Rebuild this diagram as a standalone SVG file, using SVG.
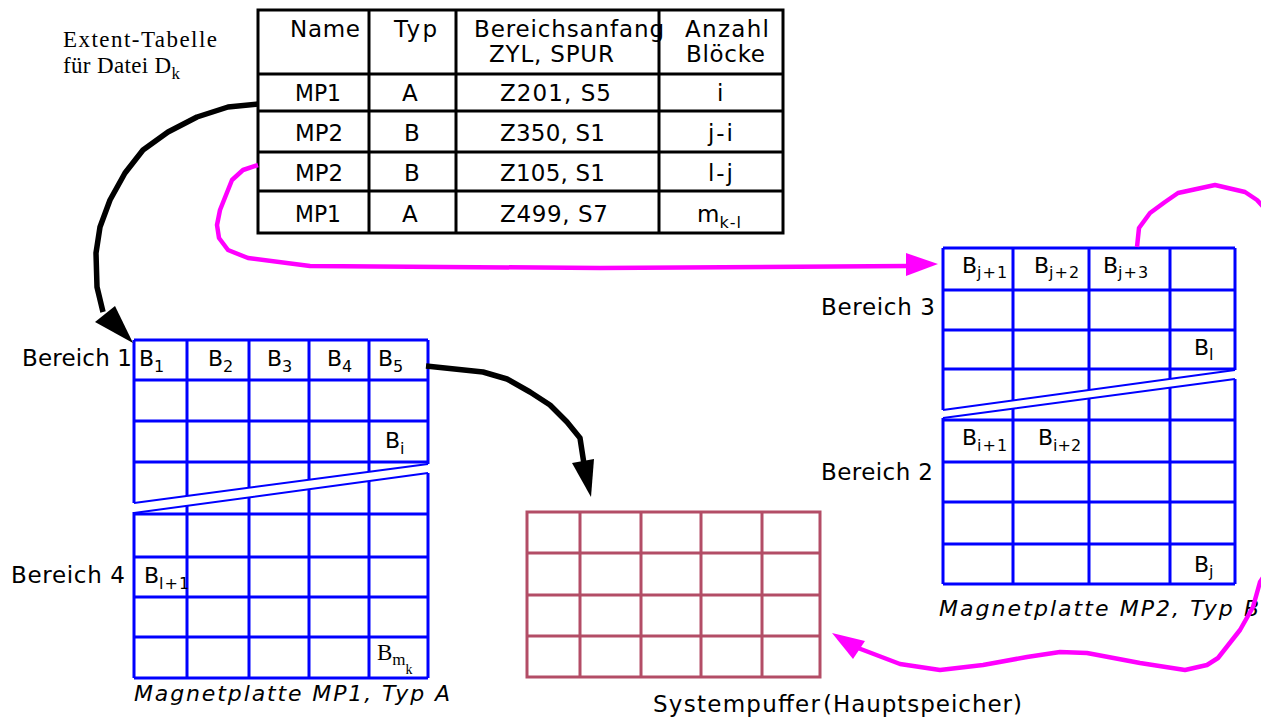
<svg xmlns="http://www.w3.org/2000/svg" width="1261" height="718" viewBox="0 0 1261 718">
  <style>
    .sans { font-family: "DejaVu Sans", "Liberation Sans", sans-serif; fill: #000; }
    .serif { font-family: "Liberation Serif", "Times New Roman", serif; fill: #000; }
    .t23 { font-size: 23px; }
    .t22 { font-size: 22px; }
    .ital { font-style: italic; }
    .sub { font-size: 16px; }
    .tab { stroke: #000; stroke-width: 3; fill: none; }
    .grid { stroke: #0000FF; stroke-width: 3; fill: none; }
    .cut { stroke: #0000FF; stroke-width: 2; fill: none; }
    .buf { stroke: #B34D66; stroke-width: 3; fill: none; }
    .blk { stroke: #000; stroke-width: 5.5; fill: none; stroke-linejoin: round; stroke-linecap: butt; }
    .mag { stroke: #FF00FF; stroke-width: 4.5; fill: none; stroke-linejoin: round; }
  </style>

  <rect width="1261" height="718" fill="#fff"/>

  <!-- extent table caption -->
  <g id="caption">
    <text class="serif" x="63" y="47" font-size="23" textLength="154">Extent-Tabelle</text>
    <text class="serif" x="63" y="73" font-size="23" textLength="117">für Datei D<tspan font-size="17" dy="6">k</tspan></text>
  </g>

  <!-- extent table -->
  <g id="extent-table">
    <rect class="tab" x="258" y="10" width="525" height="223"/>
    <path class="tab" d="M258 74H783M258 111H783M258 152H783M258 191H783M369 10V233M456 10V233M659 10V233"/>
    <g class="sans t23">
      <text x="290" y="37" textLength="70">Name</text>
      <text x="394" y="37" textLength="43">Typ</text>
      <text x="474" y="37" textLength="190">Bereichsanfang</text>
      <text x="489" y="62" textLength="125">ZYL, SPUR</text>
      <text x="685" y="37" textLength="84">Anzahl</text>
      <text x="686" y="62" textLength="79">Blöcke</text>

      <text x="295" y="101" textLength="46" lengthAdjust="spacingAndGlyphs">MP1</text>
      <text x="402" y="101">A</text>
      <text x="500" y="101" textLength="111">Z201, S5</text>
      <text x="717" y="101">i</text>

      <text x="295" y="141" textLength="48" lengthAdjust="spacingAndGlyphs">MP2</text>
      <text x="404" y="141">B</text>
      <text x="500" y="141" textLength="105">Z350, S1</text>
      <text x="708" y="141" textLength="25">j-i</text>

      <text x="295" y="181" textLength="48" lengthAdjust="spacingAndGlyphs">MP2</text>
      <text x="404" y="181">B</text>
      <text x="500" y="181" textLength="105">Z105, S1</text>
      <text x="708" y="181" textLength="25">l-j</text>

      <text x="295" y="222" textLength="46" lengthAdjust="spacingAndGlyphs">MP1</text>
      <text x="402" y="222">A</text>
      <text x="500" y="222" textLength="108">Z499, S7</text>
      <text x="697" y="222">m<tspan class="sub" dy="6" letter-spacing="1">k-l</tspan></text>
    </g>
  </g>

  <!-- disk MP1, type A -->
  <g id="disk-mp1">
    <path class="grid" d="M134 340H428M134 421H428M134 462H428M134 340V503M428 340V464
      M187 340V496M249 340V488M309 340V480M369 340V472"/>
    <path class="grid" stroke-width="4" d="M134 380H428"/>
    <path class="cut" d="M428 464L134 503M428 473L134 513"/>
    <path class="grid" d="M134 514H428M134 557H428M134 597H428M134 637H428M134 678H428
      M134 512V678M187 505V678M249 497V678M309 489V678M369 481V678M428 473V678"/>
    <g class="sans t23">
      <text x="22" y="366" textLength="110">Bereich 1</text>
      <text x="11" y="583" textLength="114">Bereich 4</text>
    </g>
    <g class="sans t22">
      <text x="139" y="366">B<tspan class="sub" dy="6">1</tspan></text>
      <text x="208" y="366">B<tspan class="sub" dy="6">2</tspan></text>
      <text x="267" y="366">B<tspan class="sub" dy="6">3</tspan></text>
      <text x="327" y="366">B<tspan class="sub" dy="6">4</tspan></text>
      <text x="378" y="366">B<tspan class="sub" dy="6">5</tspan></text>
      <text x="385" y="448">B<tspan class="sub" dy="6">i</tspan></text>
      <text x="144" y="583">B<tspan class="sub" dy="6" letter-spacing="1">l+1</tspan></text>
    </g>
    <text class="serif" x="377" y="660" font-size="23">B<tspan font-size="17" dy="5">m</tspan><tspan font-size="14" dy="9">k</tspan></text>
    <text class="sans t22 ital" x="134" y="701" textLength="316">Magnetplatte MP1, Typ A</text>
  </g>

  <!-- disk MP2, type B -->
  <g id="disk-mp2">
    <path class="grid" d="M943 248H1235M943 290H1235M943 330H1235M943 369H1235M943 248V410M1235 248V370
      M1013 248V400M1089 248V390M1170 248V379"/>
    <path class="cut" d="M1235 370L943 410M1235 379L943 418"/>
    <path class="grid" d="M943 420H1235M943 462H1235M943 502H1235M943 544H1235M943 584H1235
      M943 418V584M1013 409V584M1089 398V584M1170 388V584M1235 379V584"/>
    <g class="sans t23">
      <text x="821" y="315" textLength="114">Bereich 3</text>
      <text x="821" y="480" textLength="112">Bereich 2</text>
    </g>
    <g class="sans t22">
      <text x="962" y="273">B<tspan class="sub" dy="5" letter-spacing="1">j+1</tspan></text>
      <text x="1034" y="273">B<tspan class="sub" dy="5" letter-spacing="1">j+2</tspan></text>
      <text x="1103" y="273">B<tspan class="sub" dy="5" letter-spacing="1">j+3</tspan></text>
      <text x="1194" y="355">B<tspan class="sub" dy="5">l</tspan></text>
      <text x="962" y="445">B<tspan class="sub" dy="6" letter-spacing="1">i+1</tspan></text>
      <text x="1038" y="445">B<tspan class="sub" dy="6">i+2</tspan></text>
      <text x="1194" y="572">B<tspan class="sub" dy="5">j</tspan></text>
    </g>
    <text class="sans t22 ital" x="939" y="616" textLength="320">Magnetplatte MP2, Typ B</text>
  </g>

  <!-- system buffer in main memory -->
  <g id="system-buffer">
    <rect class="buf" x="527" y="512" width="293" height="165"/>
    <path class="buf" d="M527 553H820M527 595H820M527 636H820M580 512V677M641 512V677M701 512V677M762 512V677"/>
    <text class="sans t23" x="653" y="712"><tspan textLength="167">Systempuffer</tspan><tspan x="823" textLength="199">(Hauptspeicher)</tspan></text>
  </g>

  <!-- connectors -->
  <g id="connectors">
    <path class="blk" d="M258 104L228 107L197 117L168 132L143 150L125 173L110 200L100 227L96 253L97 287L103 312"/>
    <polygon points="133,343 95,322 115,306" fill="#000"/>

    <path class="blk" d="M426 366L483 372L507 379L530 392L550 405L567 422L580 438L584 464"/>
    <polygon points="591,497 572,463 594,459" fill="#000"/>

    <path class="mag" d="M258 165L243 170L232 180L226 195L220 210L217 225L219 238L228 250L248 258L310 266L600 268L908 266"/>
    <polygon points="938,264 906,253 906,276" fill="#FF00FF"/>

    <path class="mag" d="M1137 247L1139 228L1150 213L1165 202L1178 193L1215 185L1245 192L1257 200L1275 220L1275 560L1260 582L1253 607L1240 630L1218 658L1207 665L1185 670L1140 663L1087 653L1060 652L1027 657L983 665L940 670L900 664L858 648"/>
    <polygon points="832,633 865,641 853,659" fill="#FF00FF"/>
  </g>
</svg>
